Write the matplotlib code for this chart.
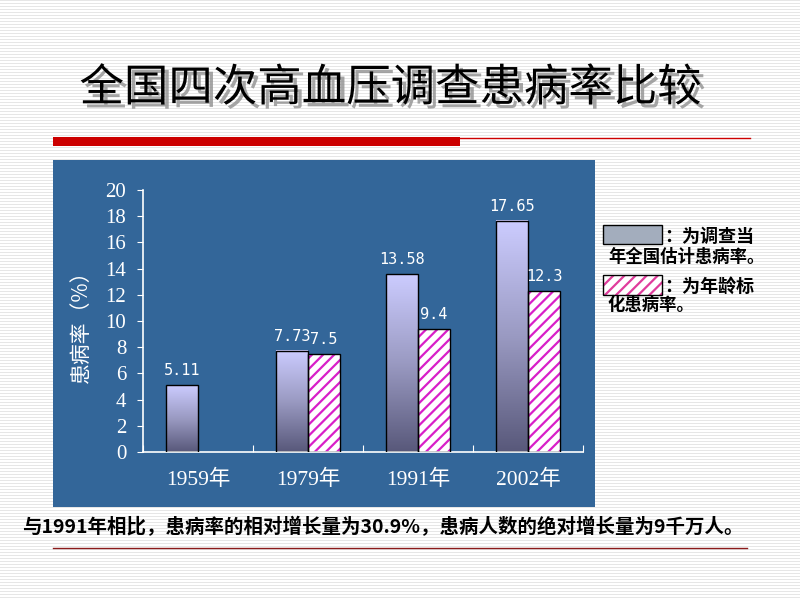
import matplotlib.pyplot as plt
import matplotlib.patheffects as pe
import numpy as np
from matplotlib.colors import LinearSegmentedColormap
from matplotlib.patches import Rectangle

plt.rcParams['font.family'] = ['Noto Sans CJK SC', 'DejaVu Sans']
plt.rcParams['hatch.linewidth'] = 1.6

title = "全国四次高血压调查患病率比较"
years = ["1959年", "1979年", "1991年", "2002年"]
survey = [5.11, 7.73, 13.58, 17.65]
survey_labels = ["5.11", "7.73", "13.58", "17.65"]
# 1959 has no age-standardised value
std_idx = [1, 2, 3]
standard = [7.5, 9.4, 12.3]
standard_labels = ["7.5", "9.4", "12.3"]
y_ticks = [0, 2, 4, 6, 8, 10, 12, 14, 16, 18, 20]
ylabel = "患病率（%）"
legend1 = ["：为调查当", "年全国估计患病率。"]
legend2 = ["：为年龄标", "化患病率。"]
note = "与1991年相比，患病率的相对增长量为30.9%，患病人数的绝对增长量为9千万人。"

W, H = 800, 600
fig = plt.figure(figsize=(8, 6), dpi=100)


def fx(px):
    return px / W


def fy(py):
    return 1 - py / H


# slide background with thin grey stripes
bg = fig.add_axes([0, 0, 1, 1])
stripes = np.ones((H, 1))
stripes[::3] = 0.9
bg.imshow(stripes, cmap='gray', vmin=0, vmax=1, aspect='auto',
          interpolation='nearest', extent=[0, 1, 0, 1])
bg.set_xlim(0, 1)
bg.set_ylim(0, 1)
bg.axis('off')

bg.text(fx(391), fy(88), title, fontsize=32, ha='center', va='center', color='black',
        path_effects=[pe.withSimplePatchShadow(offset=(3, -3), shadow_rgbFace='#909090', alpha=0.8)])
bg.add_patch(Rectangle((fx(53), fy(146)), fx(460 - 53), 9 / H, color='#CC0000', lw=0))
bg.plot([fx(460), fx(750)], [fy(137.5), fy(137.5)], color='#CC0000', lw=1)

# blue chart panel
bg.add_patch(Rectangle((fx(53), fy(507)), fx(595 - 53), 347 / H, color='#336699', lw=0))

# legend boxes
bg.add_patch(Rectangle((fx(603), fy(244)), fx(59), 19 / H, facecolor='#A3ADBD',
                       edgecolor='black', lw=1))
bg.add_patch(Rectangle((fx(603), fy(295)), fx(59), 20 / H, facecolor='white',
                       edgecolor='#E03C9C', hatch='///', lw=0))
bg.add_patch(Rectangle((fx(603), fy(295)), fx(59), 20 / H, fill=False,
                       edgecolor='black', lw=1))
bg.text(fx(664), fy(236), legend1[0], fontsize=13, fontweight='bold', va='center')
bg.text(fx(608), fy(257), legend1[1], fontsize=12.5, fontweight='bold', va='center')
bg.text(fx(664), fy(286), legend2[0], fontsize=13, fontweight='bold', va='center')
bg.text(fx(608), fy(305), legend2[1], fontsize=12.5, fontweight='bold', va='center')

bg.text(fx(22), fy(527), note, fontsize=14, fontweight='bold', va='center')
bg.plot([fx(53), fx(747)], [fy(548), fy(548)], color='#8B1A1A', lw=1)

# bar chart
ax = fig.add_axes([fx(143), fy(452), fx(440), 262 / H])
ax.patch.set_visible(False)
x = np.arange(len(years)) + 0.5
bw = 0.29
xs = [x[i] + bw / 2 for i in std_idx]

bars1 = ax.bar(x - bw / 2, survey, bw, fill=False, edgecolor='black', lw=1, zorder=3)
cmap = LinearSegmentedColormap.from_list('g', ['#58587A', '#9A9AC2', '#CCCCFF'])
grad = np.linspace(0, 1, 256).reshape(-1, 1)
for r in bars1:
    ax.imshow(grad, extent=[r.get_x(), r.get_x() + r.get_width(), 0, r.get_height()],
              aspect='auto', cmap=cmap, origin='lower', zorder=2)

ax.bar(xs, standard, bw, facecolor='white', edgecolor='#D81FC8', hatch='///', lw=0, zorder=2)
ax.bar(xs, standard, bw, fill=False, edgecolor='black', lw=1, zorder=3)

for xi, v, s in zip(x - bw / 2, survey, survey_labels):
    ax.annotate(s, (xi, v), xytext=(0, 5), textcoords='offset points', ha='center',
                va='bottom', color='white', fontsize=11, family='DejaVu Sans Mono')
for xi, v, s in zip(xs, standard, standard_labels):
    ax.annotate(s, (xi, v), xytext=(0, 5), textcoords='offset points', ha='center',
                va='bottom', color='white', fontsize=11, family='DejaVu Sans Mono')

ax.set_xlim(0, len(years))
ax.set_ylim(0, 20)
for s in ['top', 'right']:
    ax.spines[s].set_visible(False)
for s in ['left', 'bottom']:
    ax.spines[s].set_color('white')
    ax.spines[s].set_linewidth(1.2)

ax.set_yticks(y_ticks)
ax.set_yticklabels([str(t) for t in y_ticks], color='white', fontsize=15,
                   family=['Liberation Serif'])
ax.tick_params(axis='y', colors='white', direction='out', length=4, pad=8)
ax.set_xticks(np.arange(len(years) + 1))
ax.set_xticklabels([])
ax.tick_params(axis='x', which='major', colors='white', direction='in', length=5)
ax.set_xticks(x, minor=True)
ax.set_xticklabels(years, minor=True, color='white', fontsize=15.5,
                   family=['Liberation Serif', 'Noto Sans CJK SC'])
ax.tick_params(axis='x', which='minor', length=0, pad=13)
ax.set_ylabel(ylabel, color='white', fontsize=15, labelpad=10)

fig.savefig('out.png', dpi=100)
